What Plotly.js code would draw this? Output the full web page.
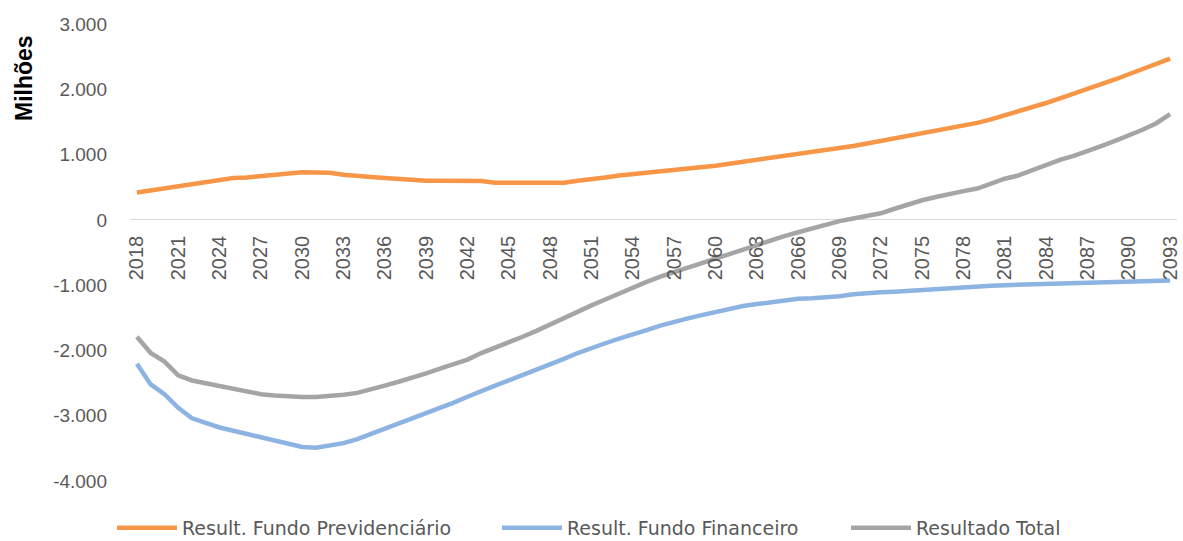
<!DOCTYPE html>
<html>
<head>
<meta charset="utf-8">
<script src="https://cdn.plot.ly/plotly-3.0.1.min.js"></script>
<style>
  html, body { margin: 0; padding: 0; background: #fff; }
  #chart { width: 1183px; height: 541px; }
</style>
</head>
<body>
<div id="chart"></div>
<script>
// Years 2018..2093
const years = ["2018","2019","2020","2021","2022","2023","2024","2025","2026","2027",
  "2028","2029","2030","2031","2032","2033","2034","2035","2036","2037",
  "2038","2039","2040","2041","2042","2043","2044","2045","2046","2047",
  "2048","2049","2050","2051","2052","2053","2054","2055","2056","2057",
  "2058","2059","2060","2061","2062","2063","2064","2065","2066","2067",
  "2068","2069","2070","2071","2072","2073","2074","2075","2076","2077",
  "2078","2079","2080","2081","2082","2083","2084","2085","2086","2087",
  "2088","2089","2090","2091","2092","2093"];

// Result. Fundo Previdenciário (milhões)
const fundoPrevidenciario = [420,450,480,520,550,580,610,640,650,670,
  700,725,730,725,720,690,665,655,640,625,
  605,600,600,600,600,595,570,568,567,567,
  567,570,600,620,650,680,700,725,750,770,
  790,810,830,860,890,920,950,980,1005,1030,
  1060,1095,1130,1170,1210,1250,1290,1320,1360,1400,
  1445,1485,1540,1600,1660,1720,1790,1860,1930,2000,
  2080,2150,2230,2310,2390,2470];

// Result. Fundo Financeiro (milhões)
const fundoFinanceiro = [-2205,-2520,-2670,-2880,-3040,-3110,-3180,-3230,-3280,-3330,
  -3390,-3440,-3480,-3490,-3460,-3420,-3360,-3280,-3200,-3120,
  -3040,-2960,-2890,-2800,-2710,-2620,-2540,-2460,-2380,-2300,
  -2210,-2130,-2040,-1960,-1890,-1820,-1760,-1690,-1620,-1560,
  -1510,-1460,-1410,-1360,-1320,-1290,-1260,-1230,-1210,-1200,
  -1190,-1170,-1140,-1120,-1110,-1100,-1085,-1070,-1055,-1040,
  -1030,-1020,-1010,-1000,-995,-990,-980,-975,-970,-965,
  -960,-955,-950,-950,-950,-930];

// Resultado Total (milhões)
const resultadoTotal = [-1790,-2040,-2170,-2380,-2460,-2500,-2540,-2580,-2630,-2670,
  -2690,-2710,-2715,-2715,-2705,-2680,-2650,-2600,-2540,-2480,
  -2420,-2350,-2280,-2210,-2140,-2040,-1960,-1880,-1790,-1700,
  -1600,-1500,-1400,-1310,-1220,-1130,-1030,-950,-870,-800,
  -730,-660,-590,-520,-450,-390,-320,-250,-190,-130,
  -70,-20,20,60,100,170,240,300,350,400,
  440,480,560,630,680,760,850,920,980,1050,
  1130,1210,1290,1380,1480,1620];

const seriesNames = ["Result. Fundo Previdenciário", "Result. Fundo Financeiro", "Resultado Total"];
const yTickVals = [-4000,-3000,-2000,-1000,0,1000,2000,3000];
const yTickText = ["-4.000","-3.000","-2.000","-1.000","0","1.000","2.000","3.000"];

const colors = ["#F79646", "#8DB3E2", "#A5A5A5"];
const seriesValues = [fundoPrevidenciario, fundoFinanceiro, resultadoTotal];
const legendIds = ["legend", "legend2", "legend3"];

const traces = seriesValues.map((vals, i) => ({
  type: "scatter",
  mode: "lines",
  x: years,
  y: vals,
  name: seriesNames[i],
  legend: legendIds[i],
  line: { color: colors[i], width: 4.5 },
  hoverinfo: "x+y+name"
}));

const legendFont = { family: "DejaVu Sans", size: 19, color: "#595959" };
function legendAt(xpx) {
  return {
    orientation: "h",
    xref: "container",
    yref: "container",
    x: xpx / 1183,
    xanchor: "left",
    y: 1 - 528 / 541,
    yanchor: "middle",
    font: legendFont,
    itemwidth: 60,
    bgcolor: "rgba(0,0,0,0)",
    borderwidth: 0
  };
}

const layout = {
  width: 1183,
  height: 541,
  margin: { l: 130, r: 6, t: 24, b: 60 },
  paper_bgcolor: "#ffffff",
  plot_bgcolor: "#ffffff",
  showlegend: true,
  font: { family: "Liberation Sans, Arial, sans-serif", color: "#595959" },
  xaxis: {
    type: "category",
    range: [-0.5, years.length - 0.5],
    anchor: "free",
    position: 4 / 7,
    dtick: 3,
    tick0: 0,
    tickangle: -90,
    ticks: "",
    showgrid: false,
    showline: false,
    zeroline: false,
    tickfont: { family: "Liberation Sans, Arial, sans-serif", size: 20, color: "#595959" },
    ticklabelstandoff: 11,
    fixedrange: true
  },
  yaxis: {
    range: [-4000, 3000],
    tickmode: "array",
    tickvals: yTickVals,
    ticktext: yTickText,
    showgrid: false,
    zeroline: true,
    zerolinecolor: "#D9D9D9",
    zerolinewidth: 1.3,
    showline: false,
    ticks: "",
    ticklabelstandoff: 22,
    tickfont: { family: "Liberation Sans, Arial, sans-serif", size: 19, color: "#595959" },
    fixedrange: true
  },
  legend: legendAt(112),
  legend2: legendAt(497),
  legend3: legendAt(846),
  annotations: [{
    text: "Milhões",
    xref: "paper", yref: "paper",
    x: (24 - 130) / 1047,
    y: (481 - 78) / 457,
    xanchor: "center", yanchor: "middle",
    textangle: -90,
    showarrow: false,
    font: { family: "Liberation Sans, Arial, sans-serif", size: 23, color: "#000000", weight: "bold" }
  }]
};

Plotly.newPlot("chart", traces, layout, { displayModeBar: false, staticPlot: false });
</script>
</body>
</html>
